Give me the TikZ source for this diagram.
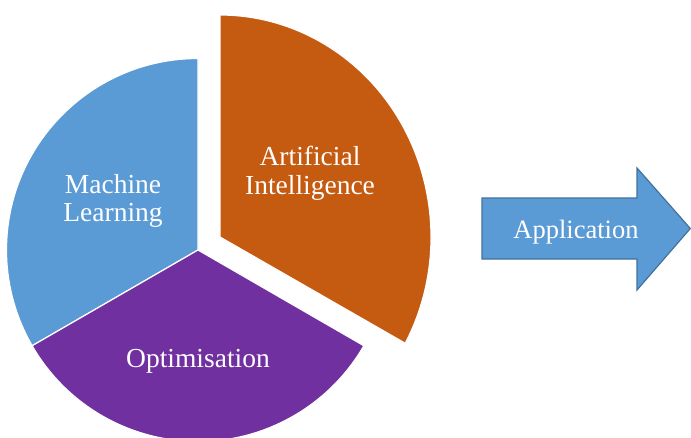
\documentclass[tikz,border=0pt]{standalone}
\usepackage{fontspec}
\setmainfont{Liberation Serif}
\definecolor{mlblue}{HTML}{5B9BD5}
\definecolor{aiorange}{HTML}{C55A11}
\definecolor{optpurple}{HTML}{7030A0}
\definecolor{arrowedge}{HTML}{41719C}
\tikzset{
  sector/.style={draw=white, line width=1.2pt, line join=miter},
  label/.style={text=white, inner sep=0pt, align=center,
    font=\fontsize{27.5}{28.5}\selectfont},
}
\begin{document}
\begin{tikzpicture}[x=1pt,y=1pt]
\useasboundingbox (0,0) rectangle (691,-437);
\clip (0,0) rectangle (691,-437);
\fill[white] (0,0) rectangle (691,-437);
% pie
\coordinate (c) at (198,-250);
\coordinate (co) at (220,-237);
\filldraw[sector, fill=mlblue] (c) -- ++(90:191.5) arc[start angle=90, end angle=210, radius=191.5] -- cycle;
\filldraw[sector, fill=optpurple] (c) -- ++(210:191.5) arc[start angle=210, end angle=330, radius=191.5] -- cycle;
\filldraw[sector, fill=aiorange] (co) -- ++({211*cos(-28.6)},{222*sin(-28.6)}) arc[start angle=-28.6, end angle=90, x radius=211, y radius=222] -- cycle;
\node[label] (ml) at (113,-200.7) {Machine\\Learning};
\node[label] (ai) at (310,-173.4) {Artificial\\Intelligence};
\node[label, anchor=base] (opt) at (198,-367) {Optimisation};
% arrow
\filldraw[fill=mlblue, draw=arrowedge, line width=1.2pt, line join=miter]
  (482,-198) -- (637,-198) -- (637,-168) -- (690.3,-228.5) -- (637,-290) -- (637,-259) -- (482,-259) -- cycle;
\node[label, anchor=base, font=\fontsize{26.5}{28}\selectfont] (app) at (576,-238) {Application};
\end{tikzpicture}
\end{document}
